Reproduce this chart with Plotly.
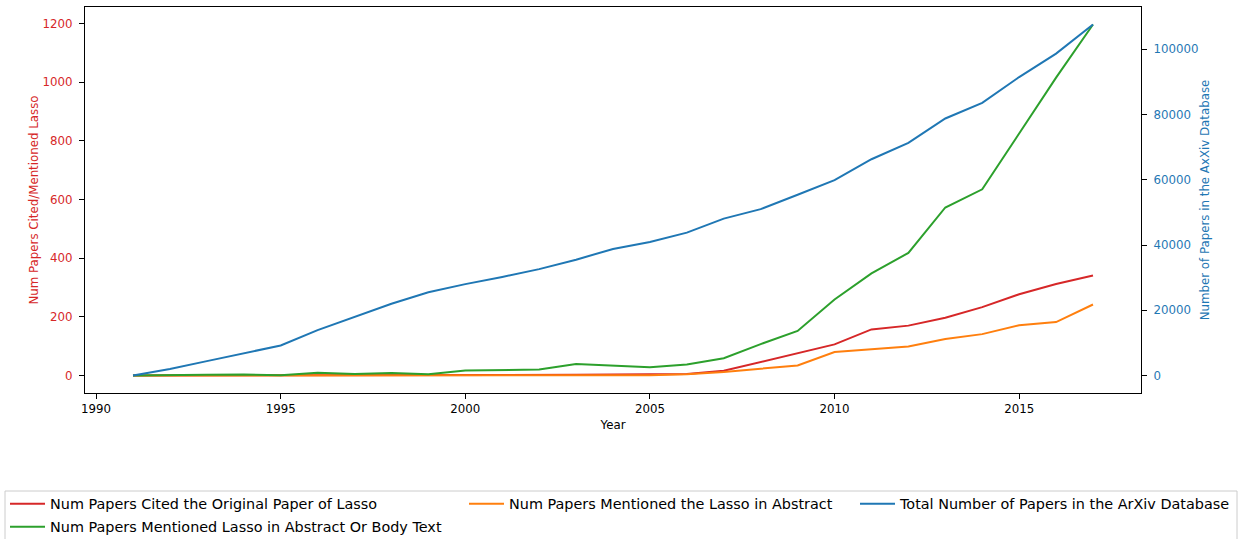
import plotly.graph_objects as go

years = list(range(1991, 2018))

cited_original = [0, 0, 0, 1, 0, 1, 1, 2, 1, 1, 2, 2, 2, 3, 3,
                  5, 16, 46, 78, 106, 157, 170, 197, 233, 277, 312, 341]
mentioned_abstract = [0, 0, 0, 0, 0, 0, 0, 0, 0, 0, 0, 0, 0, 2, 1,
                      4, 12, 23, 34, 80, 89, 99, 124, 141, 171, 182, 242]
mentioned_body = [0, 0, 2, 3, 1, 9, 5, 8, 4, 17, 19, 20, 39, 33, 28,
                  37, 59, 107, 152, 259, 348, 418, 573, 635, 826, 1016, 1197]
arxiv_total = [0, 2000, 4400, 6700, 9200, 13900, 17900, 22000, 25500, 28000,
               30200, 32600, 35500, 38800, 40900, 43800, 48100, 51000, 55400,
               59900, 66300, 71300, 78800, 83600, 91500, 98700, 107600]

RED, ORANGE, GREEN, BLUE = "#d62728", "#ff7f0e", "#2ca02c", "#1f77b4"
FONT = "DejaVu Sans"
W, H = 1239, 539
L, R, T, B = 85, 98, 7, 146

fig = go.Figure()
fig.add_trace(go.Scatter(x=years, y=cited_original, mode="lines",
                         line=dict(color=RED, width=2),
                         name="Num Papers Cited the Original Paper of Lasso",
                         legend="legend"))
fig.add_trace(go.Scatter(x=years, y=mentioned_abstract, mode="lines",
                         line=dict(color=ORANGE, width=2),
                         name="Num Papers Mentioned the Lasso in Abstract",
                         legend="legend2"))
fig.add_trace(go.Scatter(x=years, y=mentioned_body, mode="lines",
                         line=dict(color=GREEN, width=2),
                         name="Num Papers Mentioned Lasso in Abstract Or Body Text",
                         legend="legend4"))
fig.add_trace(go.Scatter(x=years, y=arxiv_total, mode="lines",
                         line=dict(color=BLUE, width=2), yaxis="y2",
                         name="Total Number of Papers in the ArXiv Database",
                         legend="legend3"))

tick_font = dict(family=FONT, size=11.8)
axis_common = dict(showgrid=False, zeroline=False, showline=True,
                   linecolor="black", linewidth=1.1, ticks="outside",
                   ticklen=5, tickwidth=1, tickcolor="black")

legend_common = dict(orientation="h", xref="container", yref="container",
                     xanchor="left", yanchor="top", bgcolor="rgba(0,0,0,0)",
                     borderwidth=0, font=dict(family=FONT, size=14.4, color="black"),
                     itemclick=False, itemwidth=35)
row1_top = 1 - 488 / H
row2_top = 1 - 511 / H

fig.update_layout(
    width=W, height=H,
    margin=dict(l=L, r=R, t=T, b=B),
    paper_bgcolor="white", plot_bgcolor="white",
    font=dict(family=FONT, size=11.8, color="black"),
    xaxis=dict(**axis_common, range=[1989.7, 2018.3], tickmode="array",
               tickvals=[1990, 1995, 2000, 2005, 2010, 2015],
               ticktext=["1990", "1995", "2000", "2005", "2010", "2015"],
               tickfont=dict(**tick_font, color="black"), mirror=True,
               title=dict(text="Year", font=dict(family=FONT, size=11.8), standoff=5)),
    yaxis=dict(**axis_common, range=[-59.85, 1256.85], tickmode="array",
               tickvals=[0, 200, 400, 600, 800, 1000, 1200],
               ticktext=["0", "200", "400", "600", "800", "1000", "1200"],
               tickfont=dict(**tick_font, color=RED),
               ticklabelstandoff=4,
               title=dict(text="Num Papers Cited/Mentioned Lasso",
                          font=dict(family=FONT, size=11.8, color=RED), standoff=1)),
    yaxis2=dict(**axis_common, overlaying="y", side="right",
                range=[-5380, 112980], tickmode="array",
                tickvals=[0, 20000, 40000, 60000, 80000, 100000],
                ticktext=["0", "20000", "40000", "60000", "80000", "100000"],
                tickfont=dict(**tick_font, color=BLUE),
                ticklabelstandoff=4,
                title=dict(text="Number of Papers in the AxXiv Database",
                           font=dict(family=FONT, size=11.8, color=BLUE), standoff=3)),
    legend=dict(**legend_common, x=5 / W, y=row1_top),
    legend4=dict(**legend_common, x=5 / W, y=row2_top),
    legend2=dict(**legend_common, x=464 / W, y=row1_top),
    legend3=dict(**legend_common, x=855 / W, y=row1_top),
    showlegend=True,
)

# Legend frame spanning all three legend columns (bottom runs off the page)
pw, ph = W - L - R, H - T - B
def px(xp):
    return (xp - L) / pw
def py(yp):
    return (H - B - yp) / ph
x0, x1, y0, y1 = 5, 1237, 491, 560
fig.add_shape(type="rect", xref="paper", yref="paper",
              x0=px(x0), x1=px(x1), y0=py(y1), y1=py(y0),
              line=dict(color="#cccccc", width=1), fillcolor="rgba(0,0,0,0)")

fig.write_html("out.html")
